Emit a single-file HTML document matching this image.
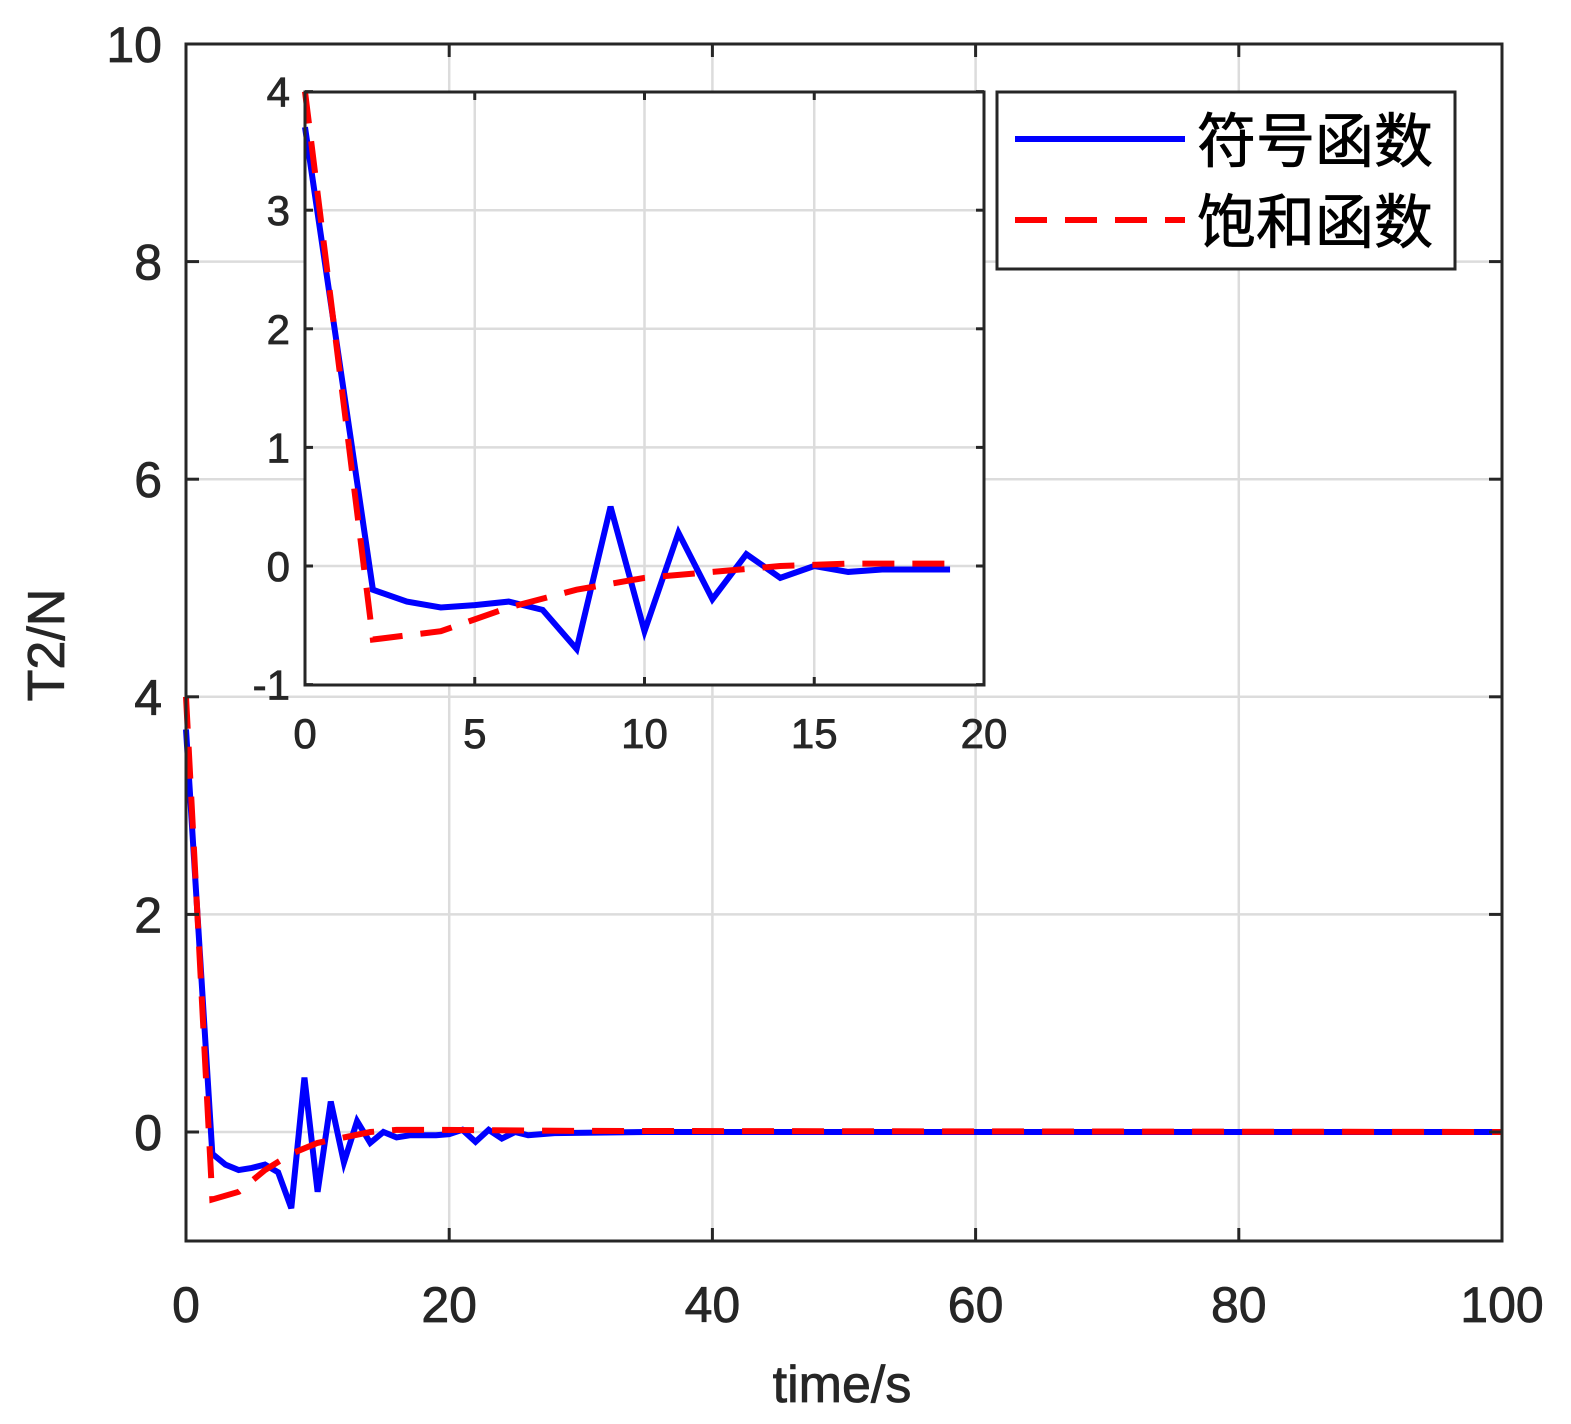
<!DOCTYPE html>
<html><head><meta charset="utf-8"><style>
html,body{margin:0;padding:0;background:#fff;overflow:hidden;}
svg{display:block;}
svg text{font-family:"Liberation Sans","Noto Sans CJK SC",sans-serif;fill:#262626;stroke:#262626;stroke-width:0.8;}
</style></head><body>
<svg id="s" width="1571" height="1424" xmlns="http://www.w3.org/2000/svg"></svg>
<script>
const s=document.getElementById('s');let h='';
const L=186,R=1502,T=44,B=1241;
const mx=x=>L+x*(R-L)/100, my=y=>1132-y*108.8;
for(let x=20;x<100;x+=20)h+=`<line x1="${mx(x)}" y1="${T}" x2="${mx(x)}" y2="${B}" stroke="#dcdcdc" stroke-width="2.5"/>`;
for(let y=0;y<10;y+=2)h+=`<line x1="${L}" y1="${my(y)}" x2="${R}" y2="${my(y)}" stroke="#dcdcdc" stroke-width="2.5"/>`;
const blue=[[0,3.7],[2,-0.2],[3,-0.3],[4,-0.35],[5,-0.33],[6,-0.3],[7,-0.37],[8,-0.7],[9,0.5],[10,-0.55],[11,0.28],[12,-0.28],[13,0.1],[14,-0.1],[15,0],[16,-0.05],[17,-0.03],[18,-0.03],[19,-0.03],[20,-0.02],[21,0.02],[22,-0.09],[23,0.02],[24,-0.06],[25,0],[26,-0.03],[28,-0.01],[35,0],[100,0]];
const red=[[0,4],[2,-0.62],[4,-0.55],[6,-0.35],[8,-0.2],[10,-0.1],[12,-0.05],[14,0],[16,0.02],[19,0.02],[30,0.01],[100,0]];
const pl=(d,fx,fy,c,da,lim)=>`<polyline fill="none" stroke="${c}" stroke-width="6" ${da?'stroke-dasharray="'+da+'"':''} points="${d.filter(p=>p[0]<=lim).map(p=>fx(p[0])+','+fy(p[1])).join(' ')}"/>`;
h+=pl(blue,mx,my,'#0000ff','',100);
h+=pl(red,mx,my,'#ff0000','32,18',100);
h+=`<rect x="${L}" y="${T}" width="${R-L}" height="${B-T}" fill="none" stroke="#262626" stroke-width="3"/>`;
for(let x=0;x<=100;x+=20){h+=`<line x1="${mx(x)}" y1="${B}" x2="${mx(x)}" y2="${B-13}" stroke="#262626" stroke-width="3"/><line x1="${mx(x)}" y1="${T}" x2="${mx(x)}" y2="${T+13}" stroke="#262626" stroke-width="3"/><text x="${mx(x)}" y="1322" font-size="50" text-anchor="middle">${x}</text>`;}
for(let y=0;y<=10;y+=2){h+=`<line x1="${L}" y1="${my(y)}" x2="${L+13}" y2="${my(y)}" stroke="#262626" stroke-width="3"/><line x1="${R}" y1="${my(y)}" x2="${R-13}" y2="${my(y)}" stroke="#262626" stroke-width="3"/><text x="162" y="${my(y)+18}" font-size="50" text-anchor="end">${y}</text>`;}
h+=`<text x="842" y="1402" font-size="52" text-anchor="middle">time/s</text>`;
h+=`<text transform="translate(64,645) rotate(-90)" font-size="52" text-anchor="middle">T2/N</text>`;
const iL=305,iR=984,iT=92,iB=685;
const ix=x=>iL+x*(iR-iL)/20, iy=y=>566-y*118.6;
h+=`<rect x="${iL}" y="${iT}" width="${iR-iL}" height="${iB-iT}" fill="#fff"/>`;
for(let x=5;x<20;x+=5)h+=`<line x1="${ix(x)}" y1="${iT}" x2="${ix(x)}" y2="${iB}" stroke="#dcdcdc" stroke-width="2.5"/>`;
for(let y=0;y<4;y++)h+=`<line x1="${iL}" y1="${iy(y)}" x2="${iR}" y2="${iy(y)}" stroke="#dcdcdc" stroke-width="2.5"/>`;
h+=pl(blue,ix,iy,'#0000ff','',19);
h+=pl(red,ix,iy,'#ff0000','32,18',19);
h+=`<rect x="${iL}" y="${iT}" width="${iR-iL}" height="${iB-iT}" fill="none" stroke="#262626" stroke-width="3"/>`;
for(let x=0;x<=20;x+=5){h+=`<line x1="${ix(x)}" y1="${iB}" x2="${ix(x)}" y2="${iB-8}" stroke="#262626" stroke-width="3"/><line x1="${ix(x)}" y1="${iT}" x2="${ix(x)}" y2="${iT+8}" stroke="#262626" stroke-width="3"/><text x="${ix(x)}" y="748" font-size="42" text-anchor="middle">${x}</text>`;}
for(let y=-1;y<=4;y++){h+=`<line x1="${iL}" y1="${iy(y)}" x2="${iL+8}" y2="${iy(y)}" stroke="#262626" stroke-width="3"/><line x1="${iR}" y1="${iy(y)}" x2="${iR-8}" y2="${iy(y)}" stroke="#262626" stroke-width="3"/><text x="290" y="${iy(y)+15}" font-size="42" text-anchor="end">${y}</text>`;}
h+=`<rect x="997" y="92" width="458" height="177" fill="#fff" stroke="#262626" stroke-width="3"/>`;
h+=`<line x1="1015" y1="139" x2="1185" y2="139" stroke="#0000ff" stroke-width="6"/>`;
h+=`<line x1="1015" y1="220" x2="1185" y2="220" stroke="#ff0000" stroke-width="6" stroke-dasharray="32,18"/>`;
h+=`<text x="1197" y="162" font-size="59" fill="#000" style="fill:#000;stroke:#000">符号函数</text>`;
h+=`<text x="1197" y="243" font-size="59" fill="#000" style="fill:#000;stroke:#000">饱和函数</text>`;
s.innerHTML=h;
</script>
</body></html>
